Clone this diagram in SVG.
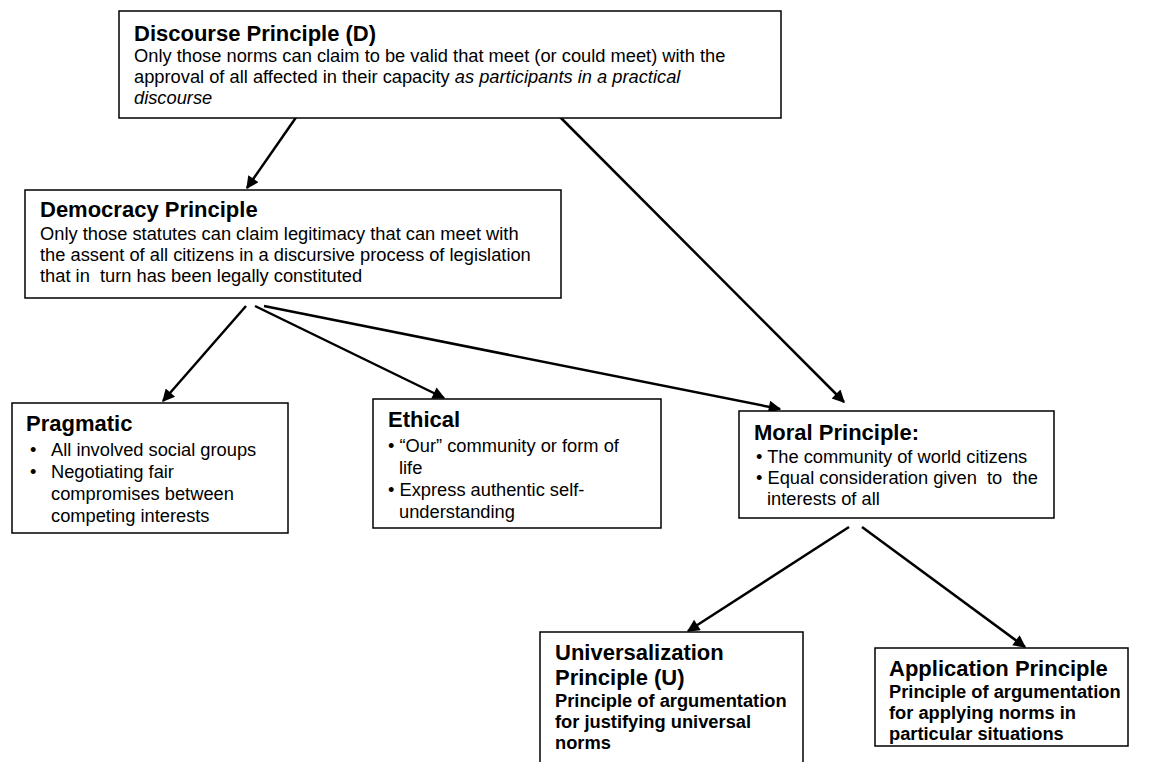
<svg xmlns="http://www.w3.org/2000/svg" width="1151" height="762" viewBox="0 0 1151 762">
<defs>
<style>
.box{fill:#fff;stroke:#000;stroke-width:1.5}
.t{font-family:"Liberation Sans",Arial,sans-serif;font-weight:bold;font-size:22px;fill:#000}
.b{font-family:"Liberation Sans",Arial,sans-serif;font-size:18.3px;fill:#000}
.bb{font-family:"Liberation Sans",Arial,sans-serif;font-weight:bold;font-size:18.3px;fill:#000}
.c{stroke:#000;stroke-width:2.5;fill:none;marker-end:url(#ah)}
</style>
<marker id="ah" viewBox="0 0 10 10" refX="9" refY="5" markerWidth="6.4" markerHeight="5" markerUnits="strokeWidth" orient="auto">
<path d="M0,0 L10,5 L0,10 z" fill="#000"/>
</marker>
</defs>
<rect width="1151" height="762" fill="#fff"/>
<g id="connectors">
<line class="c" x1="297" y1="116" x2="247" y2="188"/>
<line class="c" x1="559" y1="116" x2="844" y2="402"/>
<line class="c" x1="246" y1="306" x2="163" y2="401"/>
<line class="c" x1="255" y1="306" x2="444" y2="398"/>
<line class="c" x1="264" y1="306" x2="780" y2="409"/>
<line class="c" x1="849" y1="527" x2="688" y2="631"/>
<line class="c" x1="862" y1="527" x2="1025" y2="647"/>
</g>
<g id="discourse">
<rect class="box" x="119" y="11" width="662" height="107"/>
<text class="t" x="134" y="41">Discourse Principle (D)</text>
<text class="b" x="134" y="62">Only those norms can claim to be valid that meet (or could meet) with the</text>
<text class="b" x="134" y="83">approval of all affected in their capacity <tspan font-style="italic">as participants in a practical</tspan></text>
<text class="b" x="134" y="104" font-style="italic">discourse</text>
</g>
<g id="democracy">
<rect class="box" x="25" y="190" width="536" height="108"/>
<text class="t" x="40" y="217">Democracy Principle</text>
<text class="b" x="40" y="240">Only those statutes can claim legitimacy that can meet with</text>
<text class="b" x="40" y="261">the assent of all citizens in a discursive process of legislation</text>
<text class="b" x="40" y="282">that in&#160; turn has been legally constituted</text>
</g>
<g id="pragmatic">
<rect class="box" x="12" y="403" width="276" height="130"/>
<text class="t" x="26" y="431">Pragmatic</text>
<text class="b" x="30" y="456">•</text><text class="b" x="51" y="456">All involved social groups</text>
<text class="b" x="30" y="478">•</text><text class="b" x="51" y="478">Negotiating fair</text>
<text class="b" x="51" y="500">compromises between</text>
<text class="b" x="51" y="522">competing interests</text>
</g>
<g id="ethical">
<rect class="box" x="373" y="399" width="288" height="129"/>
<text class="t" x="388" y="427">Ethical</text>
<text class="b" x="388" y="452">• “Our” community or form of</text>
<text class="b" x="399" y="474">life</text>
<text class="b" x="388" y="496">• Express authentic self-</text>
<text class="b" x="399" y="518">understanding</text>
</g>
<g id="moral">
<rect class="box" x="739" y="411" width="315" height="107"/>
<text class="t" x="754" y="440">Moral Principle:</text>
<text class="b" x="756" y="463">• The community of world citizens</text>
<text class="b" x="756" y="484">• Equal consideration given&#160; to&#160; the</text>
<text class="b" x="767" y="505">interests of all</text>
</g>
<g id="universalization">
<rect class="box" x="540" y="632" width="263" height="140"/>
<text class="t" x="555" y="660">Universalization</text>
<text class="t" x="555" y="685">Principle (U)</text>
<text class="bb" x="555" y="707">Principle of argumentation</text>
<text class="bb" x="555" y="728">for justifying universal</text>
<text class="bb" x="555" y="749">norms</text>
</g>
<g id="application">
<rect class="box" x="875" y="648" width="253" height="98"/>
<text class="t" x="889" y="676">Application Principle</text>
<text class="bb" x="889" y="698">Principle of argumentation</text>
<text class="bb" x="889" y="719">for applying norms in</text>
<text class="bb" x="889" y="740">particular situations</text>
</g>
</svg>
